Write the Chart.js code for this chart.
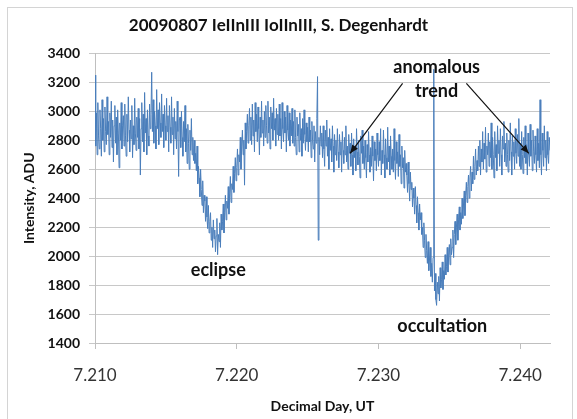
<!DOCTYPE html>
<html>
<head>
<meta charset="utf-8">
<script src="https://cdn.jsdelivr.net/npm/chart.js@4"></script>
<style>
  html, body { margin: 0; padding: 0; background: #fff; }
  #wrap { width: 577px; height: 419px; }
</style>
</head>
<body>
<div id="wrap"><canvas id="lightCurve"></canvas></div>
<script>
// light curve, sampled every 0.00005 day from 7.2100
var startDay = 7.2100;
var stepDay = 0.00005;
var intensity = [
  3250, 2760, 2990, 2700, 3060, 2830, 2740, 3010, 2880, 2690, 3080, 2800, 2950, 2720, 3030, 2860, 2770, 3100, 2840, 2930,
  2700, 2990, 2820, 3070, 2750, 2940, 2650, 2900, 3040, 2780, 2960, 2700, 3010, 2850, 2610, 2920, 2800, 3060, 2740, 2900,
  2970, 2760, 3050, 2830, 2690, 2980, 2790, 3100, 2870, 2720, 2940, 2810, 3040, 2680, 2900, 2770, 3090, 2850, 2730, 2960,
  2820, 3020, 2740, 2950, 2560, 2880, 3060, 2790, 2980, 2720, 3130, 2850, 2950, 2700, 3010, 2830, 2760, 3050, 2880, 2980,
  3270, 2860, 3080, 2780, 3000, 2900, 2740, 3150, 2880, 3010, 2770, 3060, 2920, 2820, 3120, 2860, 2980, 2750, 3040, 2900,
  2800, 3090, 2860, 2970, 2720, 3040, 2890, 2780, 3100, 2840, 2960, 2700, 3020, 2810, 2930, 2740, 3070, 2860, 2550, 2940,
  2960, 2750, 3000, 2820, 2690, 2930, 2790, 3040, 2720, 2880, 2640, 2910, 2780, 2600, 2870, 2730, 2950, 2700, 2820, 2660,
  2800, 2640, 2710, 2590, 2760, 2500, 2620, 2540, 2410, 2600, 2460, 2350, 2520, 2300, 2420, 2380, 2240, 2410, 2270, 2190,
  2350, 2160, 2240, 2300, 2110, 2200, 2060, 2250, 2120, 2180, 2030, 2140, 2260, 2010, 2150, 2100, 2230, 2060, 2290, 2180,
  2240, 2360, 2160, 2300, 2420, 2250, 2380, 2330, 2480, 2290, 2430, 2550, 2370, 2500, 2460, 2620, 2440, 2570, 2680, 2520,
  2610, 2740, 2560, 2700, 2650, 2820, 2600, 2760, 2870, 2700, 2800, 2490, 2920, 2740, 2860, 2980, 2780, 2900, 3020, 2800,
  2960, 2770, 3050, 2830, 2940, 2720, 3060, 2860, 2980, 2790, 3030, 2880, 2700, 2960, 2820, 3070, 2850, 2940, 2760, 3000,
  2820, 3040, 2900, 2780, 3070, 2850, 2960, 2740, 3030, 2880, 2990, 2800, 3090, 2870, 2950, 2760, 3020, 2840, 2980, 2800,
  3050, 2830, 2950, 2740, 3060, 2880, 2790, 3000, 2850, 2960, 2720, 3040, 2870, 2800, 2990, 2760, 2940, 2830, 3020, 2780,
  2930, 2760, 3010, 2820, 2700, 2960, 2830, 2910, 2720, 2990, 2800, 2880, 2690, 2950, 2780, 3010, 2840, 2730, 2920, 2790,
  2890, 2720, 2960, 2790, 2870, 2680, 2930, 2800, 2740, 2900, 2650, 2860, 2780, 2950, 3240, 2110, 2820, 2700, 2900, 2760,
  2850, 2680, 2900, 2740, 2620, 2870, 2760, 2940, 2690, 2820, 2600, 2880, 2730, 2810, 2650, 2900, 2760, 2580, 2840, 2700,
  2800, 2660, 2880, 2720, 2610, 2840, 2700, 2790, 2580, 2860, 2730, 2640, 2820, 2700, 2900, 2650, 2760, 2600, 2840, 2710,
  2780, 2620, 2850, 2700, 2560, 2810, 2680, 2760, 2590, 2880, 2720, 2630, 2800, 2690, 2540, 2830, 2710, 2870, 2640, 2760,
  2600, 2800, 2680, 2540, 2770, 2650, 2860, 2700, 2580, 2750, 2620, 2830, 2690, 2520, 2790, 2660, 2740, 2590, 2850, 2700,
  2620, 2790, 2660, 2880, 2560, 2730, 2640, 2870, 2700, 2540, 2810, 2680, 2600, 2890, 2650, 2760, 2560, 2830, 2690, 2600,
  2740, 2580, 2880, 2660, 2530, 2790, 2640, 2720, 2550, 2840, 2620, 2700, 2500, 2760, 2610, 2680, 2470, 2730, 2580, 2640,
  2560, 2440, 2650, 2500, 2380, 2580, 2460, 2510, 2340, 2470, 2400, 2290, 2480, 2350, 2230, 2410, 2300, 2180, 2360, 2250,
  2300, 2150, 2200, 2060, 2230, 2110, 1990, 2150, 2040, 1950, 2100, 1900, 1980, 2060, 1860, 1950, 1820, 1990, 3290, 1760,
  1880, 1700, 1660, 1820, 1740, 1860, 1690, 1920, 1780, 1840, 1960, 1770, 1900, 1840, 2010, 1870, 1930, 2060, 1890, 2000,
  2080, 1940, 2120, 2010, 2060, 2180, 1990, 2150, 2240, 2080, 2200, 2290, 2110, 2250, 2340, 2180, 2300, 2220, 2400, 2260,
  2360, 2450, 2280, 2420, 2510, 2370, 2480, 2560, 2400, 2540, 2620, 2450, 2580, 2500, 2690, 2530, 2620, 2740, 2560, 2660,
  2590, 2760, 2620, 2800, 2560, 2740, 2650, 2860, 2600, 2780, 2670, 2890, 2580, 2760, 2700, 2850, 2620, 2790, 2680, 2920,
  2600, 2820, 2700, 2540, 2860, 2680, 2770, 2590, 2900, 2710, 2800, 2620, 2880, 2700, 2560, 2830, 2740, 2930, 2650, 2780,
  2620, 2850, 2700, 2580, 2800, 2660, 2920, 2720, 2560, 2830, 2690, 2790, 2600, 2880, 2710, 2640, 2840, 2690, 2950, 2620,
  2780, 2600, 2860, 2700, 2570, 2820, 2680, 2900, 2640, 2770, 2560, 2850, 2700, 2620, 2910, 2690, 2800, 2590, 2870, 2720,
  2640, 2830, 2700, 2580, 2880, 2660, 2780, 2610, 3080, 2700, 2560, 2850, 2730, 2620, 2900, 2680, 2800, 2590, 2860, 2700,
  2640, 2820, 2730
];

var xTicks = [7.210, 7.220, 7.230, 7.240];
var yTicks = [1400, 1600, 1800, 2000, 2200, 2400, 2600, 2800, 3000, 3200, 3400];

// text labels placed in data units
var notes = [
  { text: 'anomalous', x: 7.2341, y: 3303 },
  { text: 'trend', x: 7.2341, y: 3138 },
  { text: 'eclipse', x: 7.2187, y: 1903 },
  { text: 'occultation', x: 7.2345, y: 1517 }
];
var arrows = [
  { from: [7.2317, 3193], to: [7.2280, 2710] },
  { from: [7.2362, 3193], to: [7.2406, 2710] }
];

var points = intensity.map(function (v, i) {
  return { x: startDay + i * stepDay, y: v };
});

var notesPlugin = {
  id: 'notes',
  beforeDraw: function (chart) {
    var c = chart.ctx;
    c.save();
    c.strokeStyle = '#d4d4d4';
    c.lineWidth = 1;
    c.strokeRect(7.5, 7.5, 565, 430);
    c.restore();
  },
  afterDatasetsDraw: function (chart) {
    var c = chart.ctx;
    var xs = chart.scales.x, ys = chart.scales.y;
    c.save();
    c.fillStyle = '#111';
    c.font = 'bold 18px Lato';
    c.textAlign = 'center';
    c.textBaseline = 'middle';
    notes.forEach(function (n) {
      c.fillText(n.text, xs.getPixelForValue(n.x), ys.getPixelForValue(n.y));
    });
    c.strokeStyle = '#111';
    c.fillStyle = '#111';
    c.lineWidth = 1.2;
    arrows.forEach(function (a) {
      var x1 = xs.getPixelForValue(a.from[0]), y1 = ys.getPixelForValue(a.from[1]);
      var x2 = xs.getPixelForValue(a.to[0]), y2 = ys.getPixelForValue(a.to[1]);
      c.beginPath();
      c.moveTo(x1, y1);
      c.lineTo(x2, y2);
      c.stroke();
      var ang = Math.atan2(y2 - y1, x2 - x1);
      c.beginPath();
      c.moveTo(x2, y2);
      c.lineTo(x2 - 9 * Math.cos(ang - 0.4), y2 - 9 * Math.sin(ang - 0.4));
      c.lineTo(x2 - 9 * Math.cos(ang + 0.4), y2 - 9 * Math.sin(ang + 0.4));
      c.closePath();
      c.fill();
    });
    c.restore();
  }
};

document.addEventListener('DOMContentLoaded', function () {
  var ctx = document.getElementById('lightCurve').getContext('2d');
  new Chart(ctx, {
    type: 'line',
    data: {
      datasets: [{
        data: points,
        borderColor: 'rgb(74, 126, 187)',
        borderWidth: 1,
        pointRadius: 0,
        tension: 0,
        fill: false
      }]
    },
    options: {
      responsive: true,
      maintainAspectRatio: false,
      animation: false,
      layout: { padding: { left: 7, right: 27, top: 0, bottom: 0 } },
      plugins: {
        legend: { display: false },
        tooltip: { enabled: false },
        title: {
          display: true,
          text: '20090807 IeIInIII IoIInIII, S. Degenhardt',
          color: '#111',
          font: { family: 'Lato', size: 17, weight: 'bold', lineHeight: 1.2 },
          padding: { top: 15, bottom: 18 }
        }
      },
      scales: {
        x: {
          type: 'linear',
          min: 7.210,
          max: 7.2421,
          afterBuildTicks: function (axis) {
            axis.ticks = xTicks.map(function (v) { return { value: v }; });
          },
          afterFit: function (axis) { axis.height = 76; },
          grid: { drawOnChartArea: false, drawTicks: true, tickLength: 6, color: '#bfbfbf' },
          border: { color: '#bfbfbf' },
          ticks: {
            color: '#333',
            font: { family: 'Lato', size: 17 },
            padding: 16,
            maxRotation: 0,
            callback: function (v) { return Number(v).toFixed(3); }
          },
          title: {
            display: true,
            text: 'Decimal Day, UT',
            color: '#111',
            font: { family: 'Lato', size: 14, weight: 'bold' },
            padding: { top: 0, bottom: 4 }
          }
        },
        y: {
          min: 1400,
          max: 3400,
          afterBuildTicks: function (axis) {
            axis.ticks = yTicks.map(function (v) { return { value: v }; });
          },
          afterFit: function (axis) { axis.width = 88; },
          grid: { color: '#c8c8c8', tickLength: 6 },
          border: { color: '#bfbfbf' },
          ticks: {
            color: '#111',
            font: { family: 'Lato', size: 14, weight: 'bold' },
            padding: 9,
            callback: function (v) { return String(v); }
          },
          title: {
            display: true,
            text: 'Intensity, ADU',
            color: '#111',
            font: { family: 'Lato', size: 14, weight: 'bold' },
            padding: { top: 14, bottom: 0 }
          }
        }
      }
    },
    plugins: [notesPlugin]
  });
});
</script>
</body>
</html>
